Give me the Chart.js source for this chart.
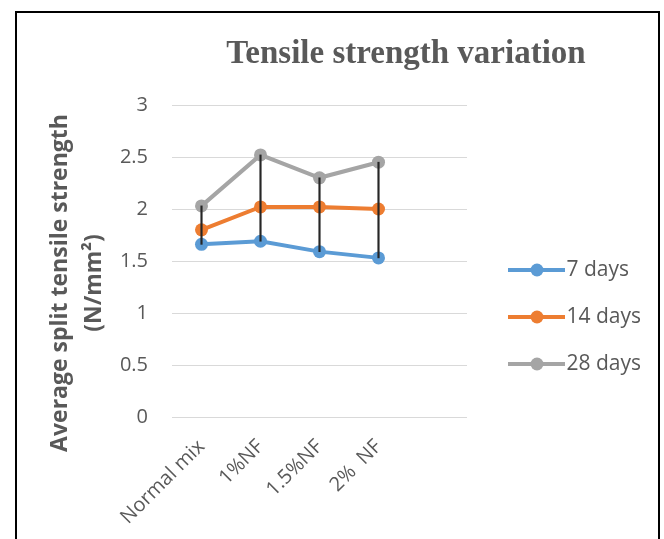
<!DOCTYPE html>
<html>
<head>
<meta charset="utf-8">
<script src="https://cdn.jsdelivr.net/npm/chart.js@4.4.1/dist/chart.umd.min.js"></script>
<style>
  body { margin: 0; background: #fff; }
  #frame {
    position: absolute; left: 15px; top: 11px;
    width: 641px; height: 530px;
    border: 2px solid #000; border-bottom: none;
  }
  #wrap { width: 641px; height: 526px; }
</style>
</head>
<body>
<div id="frame"><div id="wrap"><canvas id="chart"></canvas></div></div>
<script>
// data
const categories = ['Normal mix', '1%NF', '1.5%NF', '2%  NF', ''];
const days7 = [1.66, 1.69, 1.59, 1.53];
const days14 = [1.80, 2.02, 2.02, 2.00];
const days28 = [2.03, 2.52, 2.30, 2.45];
const seriesNames = ['7 days', '14 days', '28 days'];
const seriesColors = ['#5B9BD5', '#ED7D31', '#A5A5A5'];
const yTicks = [0, 0.5, 1, 1.5, 2, 2.5, 3];

const titleText = 'Tensile strength variation';
const yTitleLines = ['Average split tensile strength', '(N/mm²)'];
const textGray = '#595959';

// high-low lines: from the lowest to the highest series at each category
const highLow = days7.map((v, i) => {
  const vals = [days7[i], days14[i], days28[i]];
  return [Math.min(...vals), Math.max(...vals)];
});

// legend icon: line with a dot, like the excel legend
function makeIcon(color) {
  const c = document.createElement('canvas');
  c.width = 81; c.height = 24;
  const g = c.getContext('2d');
  g.strokeStyle = color;
  g.lineWidth = 4;
  g.beginPath();
  g.moveTo(24, 12); g.lineTo(81, 12);
  g.stroke();
  g.fillStyle = color;
  g.beginPath();
  g.arc(53, 12, 6.5, 0, Math.PI * 2);
  g.fill();
  return c;
}
const legendIcons = seriesColors.map(makeIcon);

// chart title and y axis title
const textPlugin = {
  id: 'textPlugin',
  afterDraw(chart) {
    const ctx = chart.ctx;
    ctx.save();
    ctx.fillStyle = textGray;
    ctx.font = 'bold 33px "Liberation Serif"';
    ctx.textAlign = 'center';
    ctx.textBaseline = 'alphabetic';
    ctx.fillText(titleText, 389, 50);

    ctx.font = 'bold 23px "Open Sans"';
    yTitleLines.forEach((line, i) => {
      ctx.save();
      ctx.translate(50 + i * 34, 270);
      ctx.rotate(-Math.PI / 2);
      ctx.fillText(line, 0, 0);
      ctx.restore();
    });
    ctx.restore();
  }
};

const lineSets = [days7, days14, days28].map((d, i) => ({
  type: 'line',
  label: seriesNames[i],
  data: d,
  borderColor: seriesColors[i],
  backgroundColor: seriesColors[i],
  borderWidth: 4,
  pointRadius: 6.5,
  pointBorderWidth: 0,
  pointBackgroundColor: seriesColors[i],
  tension: 0,
  order: 1
}));

new Chart(document.getElementById('chart'), {
  data: {
    labels: categories,
    datasets: [
      ...lineSets,
      {
        type: 'bar',
        label: 'high-low',
        data: highLow,
        backgroundColor: '#262626',
        barThickness: 1.5,
        order: 0
      }
    ]
  },
  options: {
    responsive: true,
    maintainAspectRatio: false,
    animation: false,
    layout: { padding: { top: 92, bottom: 10, left: 0, right: 11 } },
    scales: {
      x: {
        offset: true,
        grid: { display: false },
        border: { display: false },
        ticks: {
          color: textGray,
          font: { family: 'Open Sans', size: 20 },
          minRotation: 45,
          maxRotation: 45,
          autoSkip: false,
          padding: 10
        },
        afterFit: scale => { scale.height = 112; }
      },
      y: {
        min: 0,
        max: 3,
        afterBuildTicks: scale => { scale.ticks = yTicks.map(v => ({ value: v })); },
        grid: { color: '#d9d9d9', lineWidth: 1, drawTicks: false },
        border: { display: false },
        ticks: {
          color: textGray,
          font: { family: 'Open Sans', size: 20 },
          padding: 24,
          callback: v => String(v)
        },
        afterFit: scale => { scale.width = 155; }
      }
    },
    plugins: {
      tooltip: { enabled: false },
      legend: {
        position: 'right',
        align: 'center',
        maxWidth: 180,
        labels: {
          usePointStyle: true,
          pointStyleWidth: 63,
          padding: 26,
          color: textGray,
          font: { family: 'Open Sans', size: 21 },
          generateLabels: chart => Chart.defaults.plugins.legend.labels.generateLabels(chart)
            .map(item => { item.pointStyle = legendIcons[item.datasetIndex]; return item; }),
          filter: item => item.datasetIndex < 3
        }
      }
    }
  },
  plugins: [textPlugin]
});
</script>
</body>
</html>
